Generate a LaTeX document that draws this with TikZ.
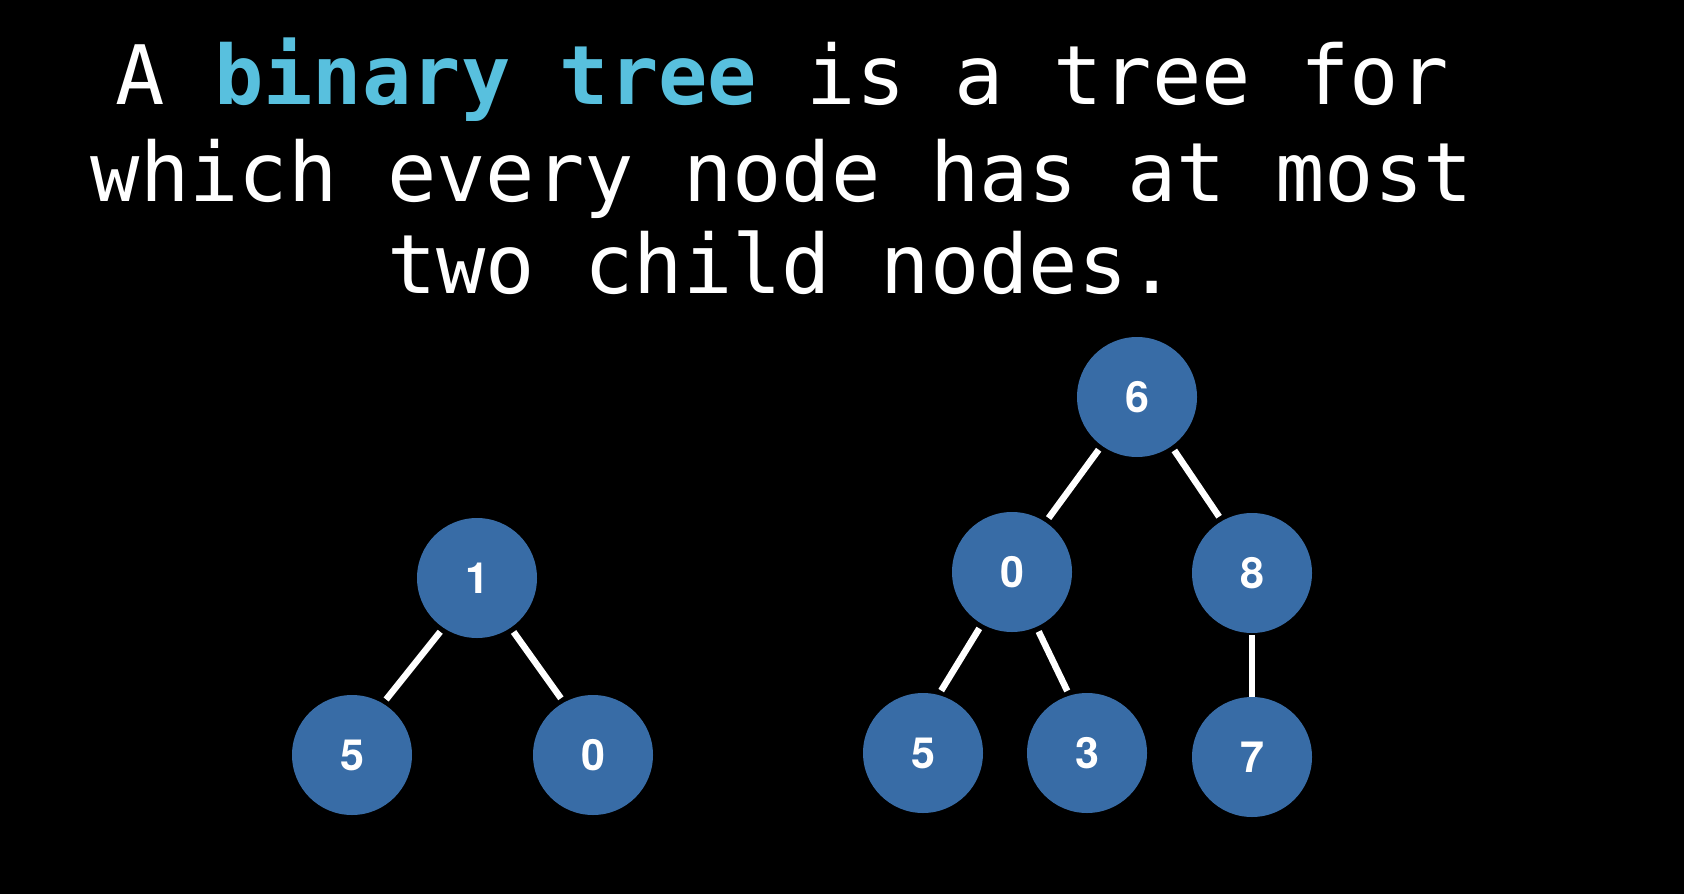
\documentclass[tikz,border=0pt]{standalone}
\usepackage{fontspec}
\newfontfamily\codefont{DejaVu Sans Mono}
\newfontfamily\keyfont{TeX Gyre Heros}
\definecolor{nodeblue}{RGB}{56,108,166}
\definecolor{termcyan}{RGB}{88,192,222}
\begin{document}
\begin{tikzpicture}[x=1pt,y=-1pt,
  treenode/.style={circle,fill=nodeblue,minimum size=120pt,inner sep=0pt,
    text=white,font=\keyfont\bfseries\fontsize{43}{43}\selectfont},
  treeedge/.style={draw=white,line width=6.5pt,shorten <=5pt,shorten >=5pt},
  headline/.style={anchor=base,text=white,inner sep=0pt,
    font=\codefont\fontsize{82}{95}\selectfont}]
  \fill[black] (0,0) rectangle (1684,894) ;
  \node[headline] (lineA) at (782,104) {A \textbf{\textcolor{termcyan}{binary tree}} is a tree for} ;
  \node[headline] (lineB) at (782,201) {which every node has at most} ;
  \node[headline] (lineC) at (782,293) {two child nodes.} ;

  \node[treenode] (leftroot) at (477,578) {1} ;
  \node[treenode] (leftfive) at (352,755) {5} ;
  \node[treenode] (leftzero) at (593,755) {0} ;
  \draw[treeedge] (leftroot.236) -- (leftfive.59) ;
  \draw[treeedge] (leftroot.304) -- (leftzero.119) ;

  \node[treenode] (rightroot) at (1137,397) {6} ;
  \node[treenode] (rightzero) at (1012,572) {0} ;
  \node[treenode] (righteight) at (1252,573) {8} ;
  \node[treenode] (rightfive) at (923,753) {5} ;
  \node[treenode] (rightthree) at (1087,753) {3} ;
  \node[treenode] (rightseven) at (1252,757) {7} ;
  \draw[treeedge] (rightroot.234) -- (rightzero.56) ;
  \draw[treeedge] (rightroot.305) -- (righteight.120) ;
  \draw[treeedge] (rightzero.240) -- (rightfive.75) ;
  \draw[treeedge] (rightzero.294) -- (rightthree.107) ;
  \draw[treeedge,shorten <=2pt,shorten >=0pt] (righteight) -- (rightseven) ;
\end{tikzpicture}
\end{document}
